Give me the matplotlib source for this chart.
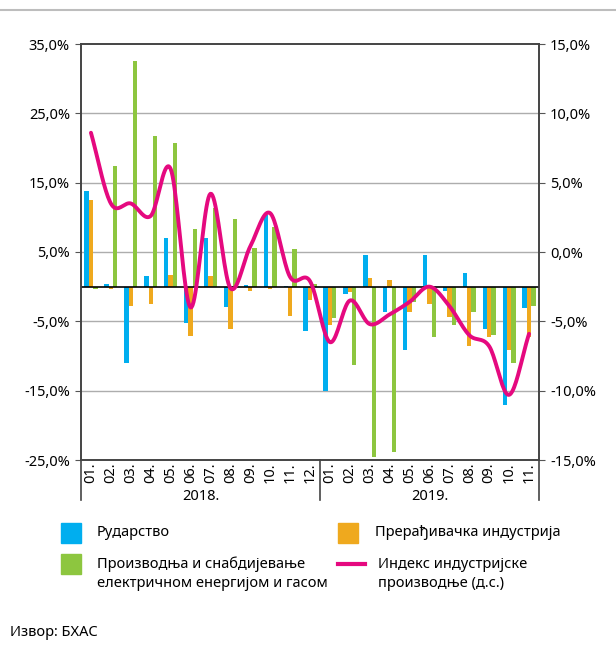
import numpy as np
import matplotlib
matplotlib.use("Agg")
import matplotlib.pyplot as plt
import matplotlib.transforms as mtransforms
from matplotlib.patches import Rectangle
from matplotlib.lines import Line2D

plt.rcParams['font.family'] = ['Noto Sans', 'DejaVu Sans']

# Data (годишње стопе, %)
months = ["01.", "02.", "03.", "04.", "05.", "06.", "07.", "08.", "09.", "10.", "11.", "12.",
          "01.", "02.", "03.", "04.", "05.", "06.", "07.", "08.", "09.", "10.", "11."]
years = ["2018.", "2019."]
rudarstvo = [13.8, 0.4, -11.0, 1.5, 7.0, -5.3, 7.0, -3.0, 0.2, 10.3, 0.1, -6.4,
             -15.1, -1.1, 4.5, -3.6, -9.1, 4.5, -0.6, 2.0, -6.1, -17.0, -3.1]
preradjivacka = [12.5, -0.4, -2.8, -2.5, 1.7, -7.1, 1.5, -6.1, -0.6, -0.3, -4.2, -1.9,
                 -5.6, -0.8, 1.2, 0.9, -3.6, -2.5, -4.4, -8.5, -7.2, -9.1, -7.2]
energija = [-0.3, 17.4, 32.5, 21.8, 20.7, 8.3, 11.3, 9.7, 5.6, 8.6, 5.4, 0.4,
            -4.5, -11.3, -24.6, -23.9, -2.2, -7.2, -5.6, -3.6, -6.9, -11.0, -2.8]
indeks = [8.6, 3.5, 3.5, 2.6, 6.0, -4.0, 4.2, -2.6, 0.4, 2.8, -1.8, -2.1,
          -6.5, -3.5, -5.2, -4.5, -3.6, -2.5, -3.9, -6.0, -6.8, -10.3, -5.9]

labels = ["Рударство", "Прерађивачка индустрија",
          "Производња и снабдијевање\nелектричном енергијом и гасом",
          "Индекс индустријске\nпроизводње (д.с.)"]
c_blue = "#00AEEF"
c_orange = "#EFA91E"
c_green = "#8DC63F"
c_pink = "#E5097F"
fs = 10.5


def catmull_rom(x, y, n=20):
    # smooth line through the points, like the spreadsheet "smoothed line"
    x = np.asarray(x, float)
    y = np.asarray(y, float)
    px = np.concatenate([[2 * x[0] - x[1]], x, [2 * x[-1] - x[-2]]])
    py = np.concatenate([[2 * y[0] - y[1]], y, [2 * y[-1] - y[-2]]])
    xs, ys = [], []
    t = np.linspace(0, 1, n, endpoint=False)
    for i in range(1, len(px) - 2):
        for p, out in ((px, xs), (py, ys)):
            p0, p1, p2, p3 = p[i - 1], p[i], p[i + 1], p[i + 2]
            out.extend(0.5 * (2 * p1 + (-p0 + p2) * t + (2 * p0 - 5 * p1 + 4 * p2 - p3) * t ** 2
                              + (-p0 + 3 * p1 - 3 * p2 + p3) * t ** 3))
    xs.append(x[-1])
    ys.append(y[-1])
    return np.array(xs), np.array(ys)


fig = plt.figure(figsize=(6.16, 6.46), dpi=100)
W, H = 616, 646
ax = fig.add_axes([81 / W, 1 - 460 / H, (539 - 81) / W, 416 / H])

x = np.arange(len(months))
bw = 0.22
ax.bar(x - bw, rudarstvo, bw, color=c_blue, zorder=2)
ax.bar(x, preradjivacka, bw, color=c_orange, zorder=2)
ax.bar(x + bw, energija, bw, color=c_green, zorder=2)

ax.set_ylim(-25, 35)
ax.set_xlim(-0.5, len(months) - 0.5)
ax.set_yticks(np.arange(-25, 36, 10))
ax.set_yticklabels([f"{v:.1f}%".replace(".", ",") for v in np.arange(-25, 36, 10)], fontsize=fs)
for v in np.arange(-15, 26, 10):
    ax.axhline(v, color="#ADADAD", lw=1, zorder=1)
ax.axhline(0, color="black", lw=1.2, zorder=3)

ax.set_xticks(x)
ax.set_xticklabels(months, rotation=90, fontsize=fs)
ax.tick_params(axis="x", length=0, pad=2)
ax.tick_params(axis="y", length=4, color="#555555", pad=4)
for s in ax.spines.values():
    s.set_color("#444444")
    s.set_linewidth(1.2)

# year separators and labels below the axis
trans = mtransforms.blended_transform_factory(ax.transData, ax.transAxes)
for xv in [-0.5, 11.5, len(months) - 0.5]:
    ax.plot([xv, xv], [0, -40 / 416], transform=trans, color="#444444", lw=1.2, clip_on=False)
ax.text(5.5, -37 / 416, years[0], transform=trans, ha="center", va="center", fontsize=fs)
ax.text(17, -37 / 416, years[1], transform=trans, ha="center", va="center", fontsize=fs)

ax2 = ax.twinx()
ax2.set_ylim(-15, 15)
ax2.set_yticks(np.arange(-15, 16, 5))
ax2.set_yticklabels([f"{v:.1f}%".replace(".", ",") for v in np.arange(-15, 16, 5)], fontsize=fs)
ax2.tick_params(axis="y", length=4, color="#555555", pad=4)
for s in ax2.spines.values():
    s.set_color("#444444")
    s.set_linewidth(1.2)
sx, sy = catmull_rom(x, indeks)
ax2.plot(sx, sy, color=c_pink, lw=2.8, solid_capstyle="round", zorder=5)

# top rule
fig.add_artist(Line2D([0, 1], [1 - 10 / H, 1 - 10 / H], color="#BDBDBD", lw=1.5))

# legend drawn by hand
def square(px, py, color):
    fig.add_artist(Rectangle((px / W, 1 - (py + 20) / H), 20 / W, 20 / H,
                             color=color, transform=fig.transFigure))

square(61, 523, c_blue)
square(338, 523, c_orange)
square(61, 554, c_green)
fig.add_artist(Line2D([338 / W, 365 / W], [1 - 564 / H, 1 - 564 / H], color=c_pink, lw=3))
fig.text(97 / W, 1 - 533 / H, labels[0], fontsize=fs, va="center")
fig.text(375 / W, 1 - 533 / H, labels[1], fontsize=fs, va="center")
fig.text(97 / W, 1 - 574 / H, labels[2], fontsize=fs, va="center", linespacing=1.35)
fig.text(378 / W, 1 - 574 / H, labels[3], fontsize=fs, va="center", linespacing=1.35)
fig.text(10 / W, 1 - 633 / H, "Извор: БХАС", fontsize=fs, va="center")

fig.savefig("out.png", dpi=100)
